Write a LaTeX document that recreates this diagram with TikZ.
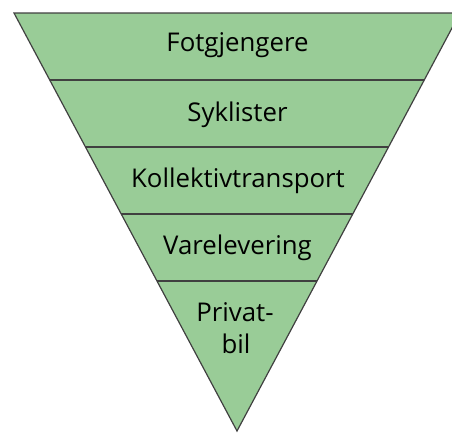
\documentclass[tikz,border=0pt]{standalone}
\usepackage{fontspec}
\setmainfont{Open Sans}
\definecolor{bandgreen}{RGB}{153,204,151}
\definecolor{edgegray}{RGB}{64,64,64}
\begin{document}
\begin{tikzpicture}[x=1pt,y=-1pt,
  lbl/.style={anchor=base,inner sep=0pt,text=black,font=\fontsize{25.8}{31.3}\selectfont,align=center},
  sep/.style={draw=edgegray,line width=1.3pt}]
\useasboundingbox (0,0) rectangle (452,432);
\clip (0,0) rectangle (452,432);
\coordinate (tl) at (14,13);
\coordinate (tr) at (460,13);
\coordinate (ap) at (237,431);
\filldraw[fill=bandgreen,draw=edgegray,line width=1.2pt,line join=miter] (tl) -- (tr) -- (ap) -- cycle;
% separators
\foreach \yy/\nm in {80/a,147/b,214/c,281/d}{
  \path (tl) -- (ap) coordinate[pos={(\yy-13)/418}] (L\nm);
  \path (tr) -- (ap) coordinate[pos={(\yy-13)/418}] (R\nm);
  \draw[sep] (L\nm) -- (R\nm);
}
\node[lbl] (n1) at (237.5,51.7) {Fotgjengere};
\node[lbl] (n2) at (237.5,121) {Syklister};
\node[lbl] (n3) at (238,187) {Kollektivtransport};
\node[lbl] (n4) at (237.5,254.3) {Varelevering};
\node[lbl] (n5) at (235,321.7) {Privat-};
\node[lbl] (n6) at (236,353) {bil};
\end{tikzpicture}
\end{document}
